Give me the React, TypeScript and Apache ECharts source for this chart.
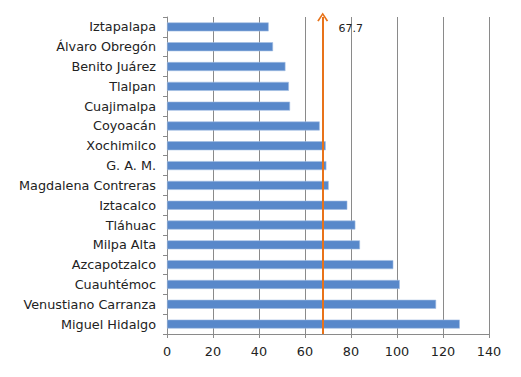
import React, { useEffect, useRef } from "react";
import * as echarts from "echarts";

const categories = [
  "Iztapalapa",
  "Álvaro Obregón",
  "Benito Juárez",
  "Tlalpan",
  "Cuajimalpa",
  "Coyoacán",
  "Xochimilco",
  "G. A. M.",
  "Magdalena Contreras",
  "Iztacalco",
  "Tláhuac",
  "Milpa Alta",
  "Azcapotzalco",
  "Cuauhtémoc",
  "Venustiano Carranza",
  "Miguel Hidalgo",
];
const values = [44.2, 46.1, 51.5, 53.0, 53.5, 66.4, 69.0, 69.3, 70.3, 78.4, 81.9, 83.9, 98.4, 101.2, 117.0, 127.3];
const referenceValue = 67.7;
const xTicks = [0, 20, 40, 60, 80, 100, 120, 140];

export default function App() {
  const ref = useRef<HTMLDivElement>(null);
  useEffect(() => {
    if (!ref.current) return;
    const chart = echarts.init(ref.current, null, { renderer: "svg" });
    const font = "DejaVu Sans, Verdana, sans-serif";
    chart.setOption({
      animation: false,
      grid: { left: 167, right: 32, top: 17, bottom: 43, containLabel: false },
      xAxis: {
        type: "value",
        min: xTicks[0],
        max: xTicks[xTicks.length - 1],
        interval: 20,
        axisLine: { show: true, lineStyle: { color: "#8a8a8a", width: 1 } },
        axisTick: { show: true, length: 4, lineStyle: { color: "#8a8a8a" } },
        axisLabel: { color: "#222", fontFamily: font, fontSize: 12.8, margin: 11 },
        splitLine: { show: true, lineStyle: { color: "#8a8a8a", width: 1 } },
      },
      yAxis: {
        type: "category",
        data: categories,
        inverse: true,
        axisLine: { show: true, lineStyle: { color: "#8a8a8a", width: 1 } },
        axisTick: { show: true, length: 4, inside: false, alignWithLabel: false, lineStyle: { color: "#8a8a8a" } },
        axisLabel: { color: "#222", fontFamily: font, fontSize: 12.8, margin: 11 },
        splitLine: { show: false },
      },
      series: [
        {
          type: "bar",
          data: values,
          barWidth: 9,
          itemStyle: { color: "#5888CA", borderColor: "#a3bde3", borderWidth: 0.6 },
          markLine: {
            silent: true,
            symbol: ["path://M0,10 L5,0 L10,10 L8.6,10.8 L5,3.4 L1.4,10.8 Z", "none"],
            symbolSize: [11, 9],
            lineStyle: { color: "#E8731A", width: 2, type: "solid" },
            label: {
              show: true,
              position: "start",
              formatter: String(referenceValue),
              color: "#222",
              fontFamily: font,
              fontSize: 11,
              distance: -17,
              padding: [0, 0, 0, 56],
            },
            data: [{ xAxis: referenceValue }],
          },
        },
      ],
    });
    return () => chart.dispose();
  }, []);
  return <div ref={ref} style={{ width: 521, height: 377, position: "absolute", left: 0, top: 0 }} />;
}
